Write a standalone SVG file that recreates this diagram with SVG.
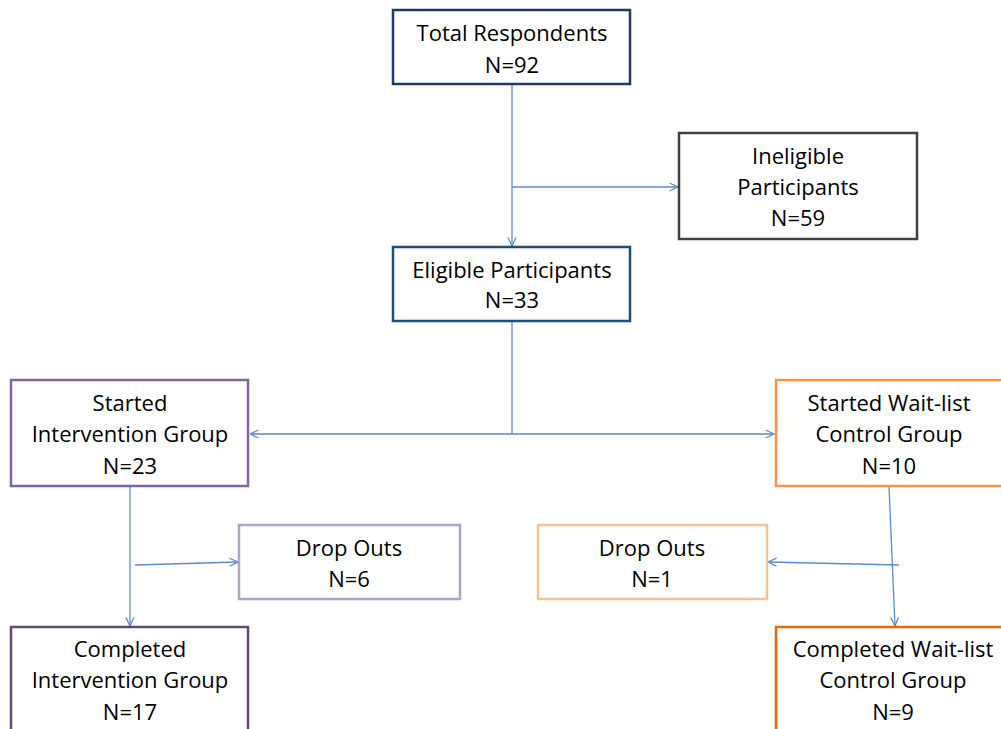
<svg xmlns="http://www.w3.org/2000/svg" width="1001" height="729" viewBox="0 0 1001 729">
<defs>
<marker id="arr" viewBox="0 0 10 10" refX="9.5" refY="5" markerWidth="10" markerHeight="10" markerUnits="userSpaceOnUse" orient="auto">
<path d="M1,1 L9.5,5 L1,9" fill="none" stroke="#5B8BC9" stroke-width="1.3"/>
</marker>
<style>
.box{fill:#fff;stroke-width:2.5}
.t{font-family:"Open Sans",Lato,"Liberation Sans",sans-serif;font-size:22px;fill:#000;text-anchor:middle}
.c{fill:none;stroke:#5B8BC9;stroke-width:1.3}
</style>
</defs>
<rect width="1001" height="729" fill="#fff"/>
<g id="connectors">
<line class="c" x1="512" y1="85" x2="512" y2="246" marker-end="url(#arr)"/>
<line class="c" x1="512" y1="187" x2="678" y2="187" marker-end="url(#arr)"/>
<line class="c" x1="512" y1="321" x2="512" y2="434"/>
<line class="c" x1="512" y1="434" x2="250" y2="434" marker-end="url(#arr)"/>
<line class="c" x1="512" y1="434" x2="774" y2="434" marker-end="url(#arr)"/>
<line class="c" x1="130" y1="486" x2="130" y2="626" marker-end="url(#arr)"/>
<line class="c" x1="135" y1="565" x2="238" y2="562" marker-end="url(#arr)"/>
<line class="c" x1="889" y1="486" x2="895" y2="626" marker-end="url(#arr)"/>
<line class="c" x1="899" y1="565" x2="768" y2="562" marker-end="url(#arr)"/>
</g>
<g id="total">
<rect class="box" x="393" y="10" width="237" height="74" stroke="#1F3864"/>
<text class="t" x="512" y="41">Total Respondents</text>
<text class="t" x="512" y="73">N=92</text>
</g>
<g id="ineligible">
<rect class="box" x="679" y="133" width="238" height="106" stroke="#404040"/>
<text class="t" x="798" y="164">Ineligible</text>
<text class="t" x="798" y="195">Participants</text>
<text class="t" x="798" y="226">N=59</text>
</g>
<g id="eligible">
<rect class="box" x="393" y="247" width="237" height="74" stroke="#1F4E79"/>
<text class="t" x="512" y="278">Eligible Participants</text>
<text class="t" x="512" y="308">N=33</text>
</g>
<g id="started-intervention">
<rect class="box" x="11" y="380" width="237" height="106" stroke="#8064A2"/>
<text class="t" x="130" y="411">Started</text>
<text class="t" x="130" y="442">Intervention Group</text>
<text class="t" x="130" y="474">N=23</text>
</g>
<g id="started-waitlist">
<rect class="box" x="776" y="380" width="237" height="106" stroke="#F79646"/>
<text class="t" x="889" y="411">Started Wait-list</text>
<text class="t" x="889" y="442">Control Group</text>
<text class="t" x="889" y="474">N=10</text>
</g>
<g id="dropouts-intervention">
<rect class="box" x="239" y="525" width="221" height="74" stroke="#B3A2C7"/>
<text class="t" x="349" y="556">Drop Outs</text>
<text class="t" x="349" y="587">N=6</text>
</g>
<g id="dropouts-waitlist">
<rect class="box" x="538" y="525" width="229" height="74" stroke="#FAC090"/>
<text class="t" x="652" y="556">Drop Outs</text>
<text class="t" x="652" y="587">N=1</text>
</g>
<g id="completed-intervention">
<rect class="box" x="11" y="627" width="237" height="110" stroke="#604A7B"/>
<text class="t" x="130" y="657">Completed</text>
<text class="t" x="130" y="688">Intervention Group</text>
<text class="t" x="130" y="720">N=17</text>
</g>
<g id="completed-waitlist">
<rect class="box" x="776" y="627" width="237" height="110" stroke="#E36C09"/>
<text class="t" x="893" y="657">Completed Wait-list</text>
<text class="t" x="893" y="688">Control Group</text>
<text class="t" x="893" y="720">N=9</text>
</g>
</svg>
